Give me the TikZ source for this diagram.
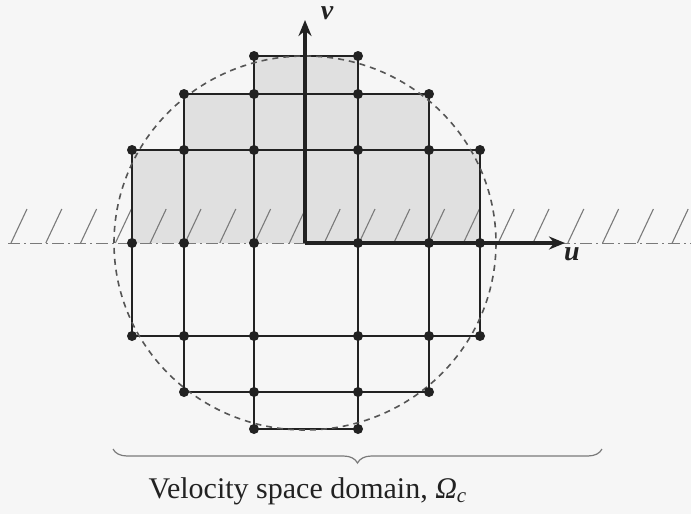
\documentclass[tikz,border=0pt]{standalone}
\usepackage{fontspec}
\setmainfont{Liberation Serif}
\usetikzlibrary{arrows.meta,decorations.pathreplacing}
\definecolor{paper}{HTML}{F6F6F6}
\definecolor{inkline}{HTML}{222222}
\definecolor{cellfill}{HTML}{E0E0E0}
\definecolor{hatchcol}{HTML}{7A7A7A}
\definecolor{ringcol}{HTML}{555555}

\begin{document}
\begin{tikzpicture}[
  x=0.5pt, y=-0.5pt,
  >={Stealth[length=8pt,width=6.5pt]},
  dot/.style={circle, fill=inkline, inner sep=0pt, minimum size=5pt},
  gridline/.style={draw=inkline, line width=0.9pt},
  axis/.style={->, draw=inkline, line width=2.4pt},
  ring/.style={draw=ringcol, line width=0.8pt, dash pattern=on 3pt off 2.5pt},
  hatch/.style={draw=hatchcol, line width=0.55pt},
  wall/.style={draw=hatchcol, line width=0.5pt, dash pattern=on 6pt off 2pt on 1pt off 2pt},
  lab/.style={font=\fontsize{14}{16}\selectfont\bfseries\itshape, text=inkline, inner sep=0pt},
]
\fill[paper] (0,0) rectangle (691,514);
\useasboundingbox (0,0) rectangle (691,514);

% ---- grid points (u columns, v rows) ----
\foreach \c/\x in {1/132,2/184,3/254,4/358,5/429,6/480}
  \foreach \r/\y in {1/56,2/94,3/150,4/243,5/336,6/392,7/429}
    \coordinate (g\r\c) at (\x,\y);
\coordinate (O) at (305,243);
\coordinate (vtip) at (305,20);
\coordinate (utip) at (565,243);

% ---- shaded half (v > 0) ----
\fill[cellfill] (g13) -- (g14) -- (g24) -- (g25) -- (g35) -- (g36) -- (g46)
  -- (g41) -- (g31) -- (g32) -- (g22) -- (g23) -- cycle;

% ---- wall: hatch + dash-dot line ----
\foreach \k in {0,...,19}
  \draw[hatch] ({11+34.8*\k},243) -- ++(16,-34);
\draw[wall] (8,243) -- (691,243);

% ---- grid lines ----
\draw[gridline] (g13) -- (g14);
\draw[gridline] (g22) -- (g25);
\draw[gridline] (g31) -- (g36);
\draw[gridline] (g51) -- (g56);
\draw[gridline] (g62) -- (g65);
\draw[gridline] (g73) -- (g74);
\draw[gridline] (g31) -- (g51);
\draw[gridline] (g22) -- (g62);
\draw[gridline] (g13) -- (g73);
\draw[gridline] (g14) -- (g74);
\draw[gridline] (g25) -- (g65);
\draw[gridline] (g36) -- (g56);

% ---- cut-off circle ----
\draw[ring] (O) circle [x radius=191, y radius=187];

% ---- axes ----
\draw[axis] (O) -- (vtip);
\draw[axis] (O) -- (utip);
\node[lab] (vlab) at (327,13) {v};
\node[lab] (ulab) at (572,254) {u};

% ---- velocity points ----
\foreach \p in {13,14,22,23,24,25,31,32,33,34,35,36,41,42,43,44,45,46,
                51,52,53,54,55,56,62,63,64,65,73,74}
  \node[dot] (n\p) at (g\p) {};

% ---- domain brace ----
\coordinate (bl) at (113,449);
\coordinate (br) at (602,449);
\draw[draw=hatchcol, line width=0.6pt,
      decorate, decoration={brace, mirror, amplitude=7pt}] (bl) -- (br);
\node[font=\fontsize{15}{18}\selectfont, text=inkline, inner sep=0pt] (title) at (308,491)
  {Velocity space domain, \textit{Ω}\textsubscript{\textit{c}}};

\end{tikzpicture}
\end{document}
